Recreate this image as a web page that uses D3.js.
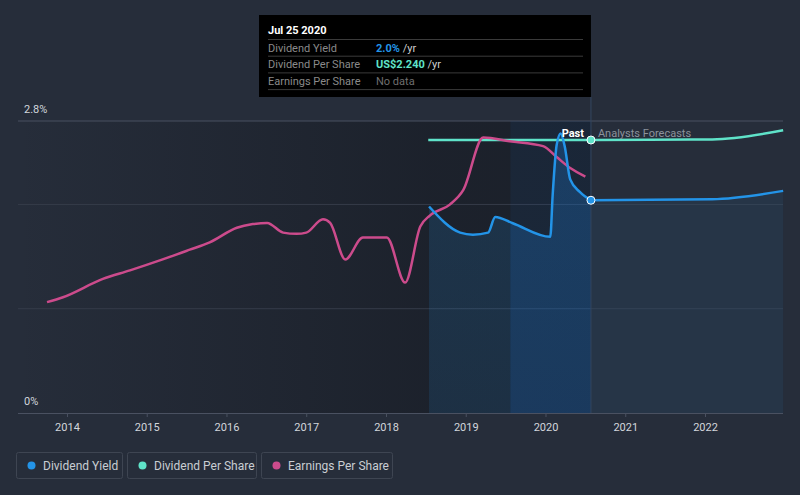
<!DOCTYPE html>
<html>
<head>
<meta charset="utf-8">
<script src="https://cdn.jsdelivr.net/npm/d3@7"></script>
<style>
  html, body { margin: 0; padding: 0; background: #262d3a; }
  svg { display: block; font-family: Roboto, "Noto Sans", sans-serif; }
</style>
</head>
<body>
<svg id="chart" width="800" height="495"></svg>
<script>
// ---------- DATA ----------
const xTickYears = [2014, 2015, 2016, 2017, 2018, 2019, 2020, 2021, 2022];
const yTickValues = [0, 2.8];
const yTickLabels = ["0%", "2.8%"];
const yGridValues = [1, 2, 2.8];

// Earnings per share (US$)
const epsYears  = [2013.75, 2013.95, 2014.45, 2014.79, 2015.2, 2015.54, 2015.79, 2016.13, 2016.33, 2016.51, 2016.71, 2016.88, 2017.0, 2017.21, 2017.3, 2017.49, 2017.71, 2018.01, 2018.24, 2018.43, 2018.55, 2018.8, 2018.97, 2019.22, 2019.55, 2019.97, 2020.14, 2020.31, 2020.5];
const epsValues = [0.91, 0.95, 1.10, 1.17, 1.26, 1.34, 1.40, 1.52, 1.55, 1.56, 1.48, 1.47, 1.48, 1.59, 1.56, 1.26, 1.44, 1.44, 1.07, 1.53, 1.62, 1.71, 1.83, 2.26, 2.23, 2.19, 2.10, 2.01, 1.94];

// Dividend yield (%) – past
const yieldYears  = [2018.54, 2018.93, 2019.09, 2019.28, 2019.37, 2019.59, 2020.06, 2020.09, 2020.14, 2020.19, 2020.24, 2020.31, 2020.43, 2020.57];
const yieldValues = [1.98, 1.73, 1.71, 1.73, 1.88, 1.82, 1.69, 2.09, 2.57, 2.68, 2.56, 2.24, 2.12, 2.04];
// Dividend yield (%) – forecast
const yieldFcYears  = [2020.57, 2021.3, 2022.09, 2022.98];
const yieldFcValues = [2.04, 2.045, 2.05, 2.13];

// Dividend per share (US$)
const dpsYears  = [2018.53, 2020.57];
const dpsValues = [2.24, 2.24];
const dpsFcYears  = [2020.57, 2021.3, 2022.09, 2022.98];
const dpsFcValues = [2.24, 2.242, 2.245, 2.32];

const nowYear = 2020.57;
const bandStartYear = 2019.56;
const plotStartYear = 2013.386, plotEndYear = 2022.978;

const legendLabels = ["Dividend Yield", "Dividend Per Share", "Earnings Per Share"];
const tooltipRows = [
  { label: "Dividend Yield", value: "2.0%", suffix: " /yr", key: 0 },
  { label: "Dividend Per Share", value: "US$2.240", suffix: " /yr", key: 1 },
  { label: "Earnings Per Share", value: "No data", suffix: "", key: 2 }
];
const tooltipTitle = "Jul 25 2020";

// ---------- STYLE ----------
const C_YIELD = "#2394e8", C_DPS = "#5fe3c9", C_EPS = "#cc4b8c";
const seriesColors = [C_YIELD, C_DPS, C_EPS];

const svg = d3.select("#chart");
const L = 18, R = 783, T = 121, B = 413;

const x = d3.scaleLinear().domain([plotStartYear, plotEndYear]).range([L, R]);
const y = d3.scaleLinear().domain([0, 2.8]).range([B, T]);
const yPS = d3.scaleLinear().domain([0, 2.24]).range([B, 140]);

const defs = svg.append("defs");
const g1 = defs.append("linearGradient").attr("id", "pastGrad")
  .attr("gradientUnits", "userSpaceOnUse").attr("x1", L).attr("x2", x(nowYear)).attr("y1", 0).attr("y2", 0);
g1.append("stop").attr("offset", 0).attr("stop-color", "#141820").attr("stop-opacity", 0);
g1.append("stop").attr("offset", 0.72).attr("stop-color", "#141820").attr("stop-opacity", 0.55);
g1.append("stop").attr("offset", 1).attr("stop-color", "#141820").attr("stop-opacity", 0.6);

const g2 = defs.append("linearGradient").attr("id", "yieldGrad")
  .attr("x1", 0).attr("x2", 0).attr("y1", 0).attr("y2", 1);
g2.append("stop").attr("offset", 0).attr("stop-color", C_YIELD).attr("stop-opacity", 0.17);
g2.append("stop").attr("offset", 1).attr("stop-color", C_YIELD).attr("stop-opacity", 0.13);

defs.append("clipPath").attr("id", "bandClip").append("rect")
  .attr("x", x(bandStartYear)).attr("y", T).attr("width", x(nowYear) - x(bandStartYear)).attr("height", B - T);

// Past background
svg.append("rect").attr("x", L).attr("y", T).attr("width", x(nowYear) - L).attr("height", B - T)
  .attr("fill", "url(#pastGrad)");

// Gridlines
svg.selectAll(".grid").data(yGridValues).enter().append("line")
  .attr("x1", L).attr("x2", R).attr("y1", d => y(d)).attr("y2", d => y(d))
  .attr("stroke", d => d === 2.8 ? "#485061" : "#353c49").attr("stroke-width", 1);

// Areas
const yieldPts = yieldYears.map((d, i) => [d, yieldValues[i]]);
const yieldFcPts = yieldFcYears.map((d, i) => [d, yieldFcValues[i]]);
const area = d3.area().x(d => x(d[0])).y0(B).y1(d => y(d[1])).curve(d3.curveMonotoneX);
svg.append("path").attr("d", area(yieldPts)).attr("fill", "url(#yieldGrad)");
svg.append("path").attr("d", area(yieldFcPts)).attr("fill", C_YIELD).attr("fill-opacity", 0.08);

// Band (last year)
svg.append("rect").attr("x", x(bandStartYear)).attr("y", T).attr("width", x(nowYear) - x(bandStartYear)).attr("height", B - T)
  .attr("fill", "#1565c0").attr("fill-opacity", 0.09);
svg.append("path").attr("d", area(yieldPts)).attr("clip-path", "url(#bandClip)")
  .attr("fill", "#1565c0").attr("fill-opacity", 0.14);

// Now line
svg.append("line").attr("x1", x(nowYear)).attr("x2", x(nowYear)).attr("y1", 97).attr("y2", B)
  .attr("stroke", "#344760").attr("stroke-width", 1);

// X axis
const xAxis = d3.axisBottom(x).tickValues(xTickYears).tickFormat(d3.format("d")).tickSize(4).tickPadding(6);
const ax = svg.append("g").attr("transform", `translate(0,${B})`).call(xAxis);
ax.select(".domain").attr("stroke", "#4a5161").attr("d", `M${L},0.5H${R}`);
ax.selectAll(".tick line").attr("stroke", "#4a5161");
ax.selectAll(".tick text").attr("fill", "#d2d6dc").attr("font-size", 11).attr("font-family", "Roboto, sans-serif");

// Y labels
svg.selectAll(".ylab").data(yTickValues).enter().append("text")
  .attr("x", 24).attr("y", d => y(d) - 8)
  .attr("fill", "#d2d6dc").attr("font-size", 11).text((d, i) => yTickLabels[i]);

// Lines
const lineY = d3.line().x(d => x(d[0])).y(d => y(d[1])).curve(d3.curveMonotoneX);
const linePS = d3.line().x(d => x(d[0])).y(d => yPS(d[1])).curve(d3.curveMonotoneX);

const epsPts = epsYears.map((d, i) => [d, epsValues[i]]);
const dpsPts = dpsYears.map((d, i) => [d, dpsValues[i]]);
const dpsFcPts = dpsFcYears.map((d, i) => [d, dpsFcValues[i]]);

svg.append("path").attr("d", linePS(dpsPts)).attr("fill", "none").attr("stroke", C_DPS).attr("stroke-width", 2.5);
svg.append("path").attr("d", linePS(dpsFcPts)).attr("fill", "none").attr("stroke", C_DPS).attr("stroke-width", 2.5);
svg.append("path").attr("d", linePS(epsPts)).attr("fill", "none").attr("stroke", C_EPS).attr("stroke-width", 2.5);
svg.append("path").attr("d", lineY(yieldPts)).attr("fill", "none").attr("stroke", C_YIELD).attr("stroke-width", 2.5);
svg.append("path").attr("d", lineY(yieldFcPts)).attr("fill", "none").attr("stroke", C_YIELD).attr("stroke-width", 2.5);

// Past / forecast labels
svg.append("text").attr("x", x(nowYear) - 7).attr("y", 137).attr("text-anchor", "end")
  .attr("fill", "#ffffff").attr("font-size", 11).attr("font-weight", "bold").text("Past");
svg.append("text").attr("x", x(nowYear) + 7).attr("y", 137)
  .attr("fill", "#8c929c").attr("font-size", 11).text("Analysts Forecasts");

// Markers
svg.append("circle").attr("cx", x(nowYear)).attr("cy", yPS(dpsValues[dpsValues.length - 1])).attr("r", 4)
  .attr("fill", C_DPS).attr("stroke", "#ffffff").attr("stroke-width", 1);
svg.append("circle").attr("cx", x(nowYear)).attr("cy", y(yieldValues[yieldValues.length - 1])).attr("r", 4)
  .attr("fill", C_YIELD).attr("stroke", "#ffffff").attr("stroke-width", 1);

// Tooltip
const tt = svg.append("g");
tt.append("rect").attr("x", 259).attr("y", 15).attr("width", x(nowYear) - 259).attr("height", 82).attr("fill", "#000000");
tt.append("text").attr("x", 268).attr("y", 34).attr("fill", "#ffffff").attr("font-size", 11).attr("font-weight", "bold").text(tooltipTitle);
const rowH = 16.7;
tooltipRows.forEach((r, i) => {
  const sepY = 39.5 + i * rowH;
  tt.append("line").attr("x1", 268).attr("x2", 583).attr("y1", sepY).attr("y2", sepY).attr("stroke", "#3a3a3a");
  const ty = sepY + 12;
  tt.append("text").attr("x", 268).attr("y", ty).attr("fill", "#8a8a8a").attr("font-size", 11).text(r.label);
  const t = tt.append("text").attr("x", 376).attr("y", ty).attr("font-size", 11);
  t.append("tspan").attr("fill", r.key === 2 ? "#6f6f6f" : seriesColors[r.key]).attr("font-weight", r.key === 2 ? "normal" : "bold").text(r.value);
  t.append("tspan").attr("fill", "#cfcfcf").text(r.suffix);
});
tt.append("line").attr("x1", 268).attr("x2", 583).attr("y1", 39.5 + 3 * rowH).attr("y2", 39.5 + 3 * rowH).attr("stroke", "#3a3a3a");

// Legend
const legW = [106, 129, 131];
let lx = 16;
legendLabels.forEach((lab, i) => {
  const g = svg.append("g").attr("transform", `translate(${lx},452)`);
  g.append("rect").attr("x", 0.5).attr("y", 0.5).attr("width", legW[i]).attr("height", 26).attr("rx", 2)
    .attr("fill", "none").attr("stroke", "#3e4552");
  g.append("circle").attr("cx", 15.5).attr("cy", 13.5).attr("r", 4).attr("fill", seriesColors[i]);
  g.append("text").attr("x", 27).attr("y", 17.5).attr("fill", "#c9cdd3").attr("font-size", 12).text(lab);
  lx += legW[i] + 5;
});
</script>
</body>
</html>
